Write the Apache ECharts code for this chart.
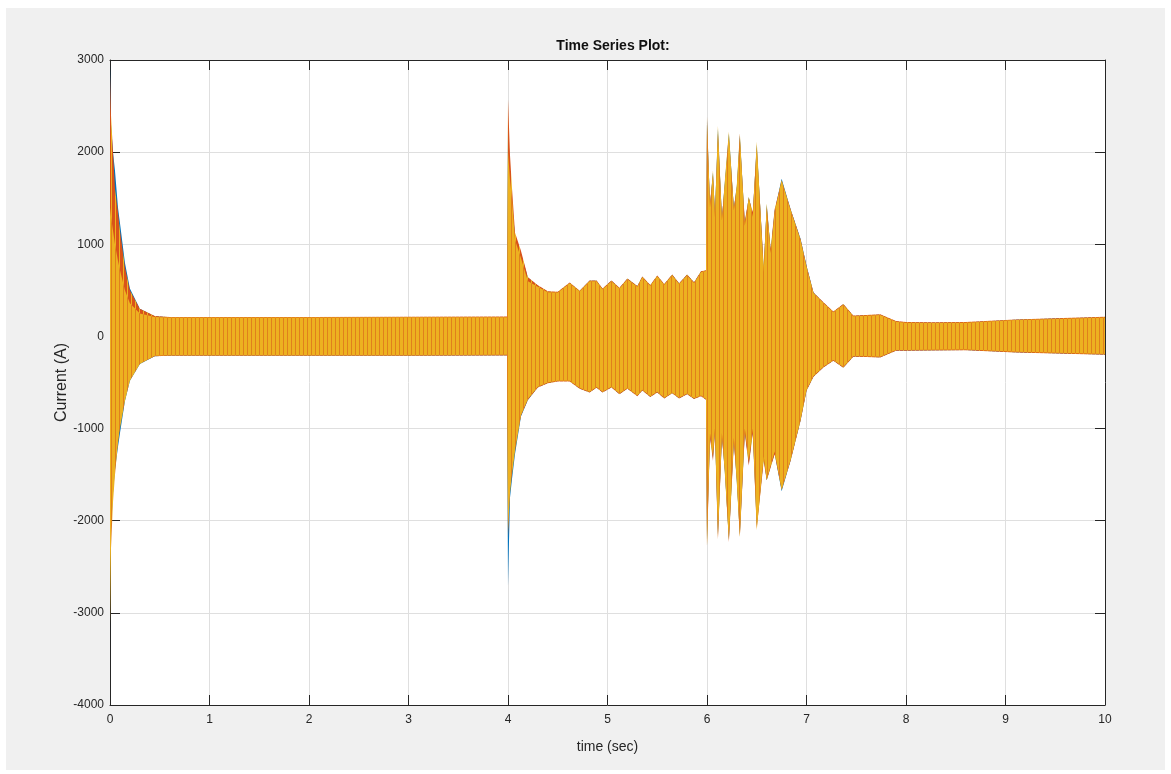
<!DOCTYPE html>
<html><head><meta charset="utf-8">
<script src="https://cdn.jsdelivr.net/npm/echarts@6/dist/echarts.min.js"></script>
<style>
html,body{margin:0;padding:0;background:#fff;width:1171px;height:774px;overflow:hidden;}
#bg{position:absolute;left:6px;top:8px;width:1159px;height:762px;background:#f0f0f0;}
#c{position:absolute;left:0;top:0;width:1171px;height:774px;}
</style></head><body><div id="bg"></div><div id="c"></div>
<script>
// ---- data (envelopes of the three phase currents) ----
const xTickValues = [0,1,2,3,4,5,6,7,8,9,10];
const yTickValues = [-4000,-3000,-2000,-1000,0,1000,2000,3000];

const timeSec = [0,0.01,0.03,0.05,0.08,0.1,0.15,0.2,0.3,0.45,
  0.6,1,2,3,3.99,4.0,4.02,4.04,4.07,4.13,
  4.2,4.3,4.4,4.5,4.62,4.72,4.82,4.89,4.95,5.04,
  5.12,5.2,5.3,5.35,5.43,5.5,5.57,5.65,5.72,5.8,
  5.87,5.94,5.99,6.0,6.03,6.06,6.08,6.11,6.15,6.18,
  6.22,6.27,6.3,6.33,6.38,6.42,6.46,6.5,6.57,6.6,
  6.64,6.68,6.75,6.84,6.94,7.0,7.07,7.17,7.27,7.37,
  7.47,7.6,7.74,7.9,8.0,8.27,8.6,9.1,9.5,10];

const yellowUpper = [1400,1300,1150,1000,820,720,500,360,250,212,
  205,205,205,207,208,2000,1700,1500,1050,850,
  600,540,480,476,577,489,600,600,511,600,
  520,621,540,643,550,652,560,665,570,665,
  580,700,710,2385,1400,1800,1300,2283,1260,1700,
  2222,1370,1650,2206,1200,1516,1300,2114,700,1446,
  905,1350,1697,1372,1046,757,470,362,262,345,
  218,225,232,159,148,145,148,177,190,205];
const yellowLower = [-3120,-2300,-1800,-1500,-1150,-1000,-700,-480,-300,-210,
  -205,-203,-203,-203,-200,-2100,-1700,-1500,-1250,-855,
  -680,-546,-500,-480,-480,-560,-600,-550,-600,-546,
  -620,-560,-640,-580,-650,-600,-665,-610,-665,-620,
  -670,-640,-680,-2264,-1050,-1300,-1000,-2180,-1050,-1500,
  -2210,-1100,-1600,-2174,-1000,-1350,-1000,-2100,-1300,-1558,
  -1400,-1250,-1667,-1341,-907,-582,-430,-330,-257,-333,
  -213,-215,-221,-148,-148,-145,-141,-166,-178,-190];

const orangeUpper = [2850,2400,2000,1600,1350,1150,750,500,300,222,
  212,212,212,214,215,2573,1965,1612,1128,930,
  643,555,490,484,585,497,608,608,519,608,
  528,629,548,651,558,660,568,673,578,673,
  588,708,718,2300,1450,1750,1350,2200,1300,1650,
  2150,1400,1600,2150,1250,1500,1350,2050,760,1400,
  950,1380,1690,1380,1055,765,478,370,270,353,
  226,233,240,167,156,153,156,185,198,213];
const orangeLower = [-2400,-2000,-1600,-1400,-1150,-950,-650,-450,-290,-215,
  -210,-209,-209,-209,-206,-2176,-1600,-1450,-1200,-860,
  -688,-554,-508,-488,-488,-568,-608,-558,-608,-554,
  -628,-568,-648,-588,-658,-608,-673,-618,-673,-628,
  -678,-648,-688,-2270,-1100,-1350,-1050,-2200,-1100,-1450,
  -2230,-1150,-1550,-2180,-1050,-1400,-1050,-2080,-1350,-1560,
  -1420,-1280,-1660,-1350,-915,-590,-438,-338,-265,-341,
  -221,-223,-229,-156,-156,-153,-149,-174,-186,-198];

const blueUpper = [2950,2300,2000,1800,1400,1230,800,520,300,220,
  208,208,208,210,211,2300,1800,1450,1100,900,
  640,550,485,480,580,492,604,604,515,604,
  524,625,544,647,554,656,564,669,574,669,
  584,704,714,2350,1420,1780,1320,2250,1280,1680,
  2200,1390,1630,2180,1220,1510,1320,2080,720,1430,
  930,1360,1710,1380,1060,770,476,366,266,349,
  222,229,236,163,152,149,152,181,194,209];
const blueLower = [-2450,-2100,-1700,-1450,-1200,-1050,-700,-480,-300,-214,
  -208,-206,-206,-206,-203,-2705,-1750,-1550,-1280,-870,
  -690,-552,-505,-485,-485,-565,-605,-555,-605,-551,
  -625,-565,-645,-585,-655,-605,-670,-615,-670,-625,
  -675,-645,-685,-2200,-1080,-1320,-1020,-2150,-1080,-1480,
  -2200,-1120,-1580,-2150,-1030,-1380,-1030,-2050,-1320,-1560,
  -1410,-1270,-1680,-1346,-912,-588,-435,-335,-262,-338,
  -218,-220,-226,-153,-153,-150,-146,-171,-183,-195];

// ---- styling ----
function stripePattern(base, stripe){
  const c = document.createElement('canvas'); c.width = 4; c.height = 4;
  const g = c.getContext('2d');
  g.fillStyle = base; g.fillRect(0,0,4,4);
  g.fillStyle = stripe; g.fillRect(3,0,1,4);
  return {image: c, repeat: 'repeat'};
}

function band(name, T, up, lo, fill, z){
  return {
    type: 'custom', name: name, z: z, silent: true, animation: false,
    coordinateSystem: 'cartesian2d', xAxisIndex: 0, yAxisIndex: 0,
    data: [[T[0], up[0]]],
    renderItem: function(params, api){
      const pts = [];
      for (let i = 0; i < T.length; i++) pts.push(api.coord([T[i], up[i]]));
      for (let i = T.length - 1; i >= 0; i--) pts.push(api.coord([T[i], lo[i]]));
      return {type: 'polygon', shape: {points: pts}, style: {fill: fill, stroke: null}};
    }
  };
}

const axisColor = '#262626';
const font = '"Liberation Sans", Arial, Helvetica, sans-serif';
const plain = function(v){ return String(v); };
const chart = echarts.init(document.getElementById('c'), null, {renderer: 'canvas'});
chart.setOption({
  backgroundColor: 'transparent',
  animation: false,
  title: {
    text: 'Time Series Plot:', left: 608, top: 34, textAlign: 'center',
    textStyle: {fontFamily: font, fontSize: 14, fontWeight: 'bold', color: '#111'}
  },
  grid: {left: 110, right: 66, top: 60, bottom: 69, show: true, backgroundColor: '#fff', borderWidth: 0},
  xAxis: [{
    type: 'value', min: xTickValues[0], max: xTickValues[xTickValues.length-1], interval: 1, position: 'bottom',
    name: 'time (sec)', nameLocation: 'middle', nameGap: 35, nameMoveOverlap: false,
    nameTextStyle: {fontFamily: font, fontSize: 14, color: axisColor},
    axisLine: {show: true, onZero: false, lineStyle: {color: axisColor, width: 1}},
    axisTick: {show: true, inside: true, length: 10, lineStyle: {color: axisColor}},
    axisLabel: {fontFamily: font, fontSize: 12, color: axisColor, margin: 9, formatter: plain},
    splitLine: {show: true, lineStyle: {color: '#dfdfdf', width: 1}}
  }, {
    type: 'value', min: xTickValues[0], max: xTickValues[xTickValues.length-1], interval: 1, position: 'top',
    axisLine: {show: true, onZero: false, lineStyle: {color: axisColor, width: 1}},
    axisTick: {show: true, inside: true, length: 10, lineStyle: {color: axisColor}},
    axisLabel: {show: false}, splitLine: {show: false}
  }],
  yAxis: [{
    type: 'value', min: yTickValues[0], max: yTickValues[yTickValues.length-1], interval: 1000, position: 'left',
    name: 'Current (A)', nameLocation: 'middle', nameGap: 40, nameRotate: 90, nameMoveOverlap: false,
    nameTextStyle: {fontFamily: font, fontSize: 16, color: axisColor},
    axisLine: {show: true, onZero: false, lineStyle: {color: axisColor, width: 1}},
    axisTick: {show: true, inside: true, length: 10, lineStyle: {color: axisColor}},
    axisLabel: {fontFamily: font, fontSize: 12, color: axisColor, margin: 6, formatter: plain},
    splitLine: {show: true, lineStyle: {color: '#dfdfdf', width: 1}}
  }, {
    type: 'value', min: yTickValues[0], max: yTickValues[yTickValues.length-1], interval: 1000, position: 'right',
    axisLine: {show: true, onZero: false, lineStyle: {color: axisColor, width: 1}},
    axisTick: {show: true, inside: true, length: 10, lineStyle: {color: axisColor}},
    axisLabel: {show: false}, splitLine: {show: false}
  }],
  series: [
    band('Phase A', timeSec, blueUpper, blueLower, '#0072BD', 2),
    band('Phase B', timeSec, orangeUpper, orangeLower, stripePattern('#D95319', '#EDB120'), 3),
    band('Phase C', timeSec, yellowUpper, yellowLower, stripePattern('#EDB120', '#E0801C'), 4)
  ]
});
</script>
</body></html>
